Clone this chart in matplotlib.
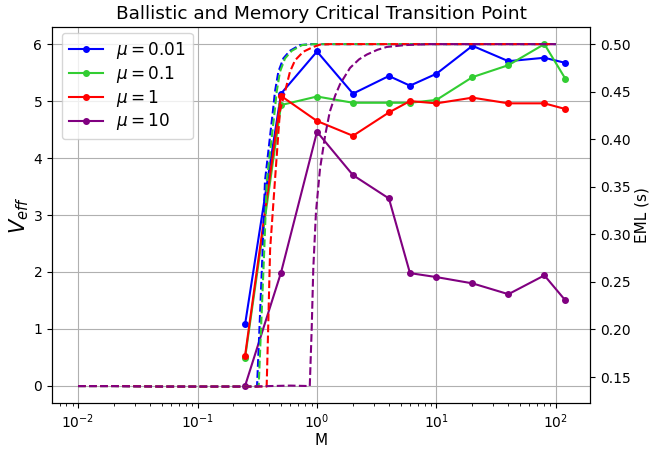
import matplotlib
matplotlib.use("Agg")
import matplotlib.pyplot as plt

# Measured points (solid lines, left axis)
M_pts = [0.25, 0.5, 1, 2, 4, 6, 10, 20, 40, 80, 120]
v_mu001 = [1.08, 5.13, 5.87, 5.13, 5.44, 5.27, 5.48, 5.97, 5.70, 5.76, 5.67]
v_mu01 = [0.49, 4.93, 5.08, 4.97, 4.97, 4.97, 5.02, 5.42, 5.63, 6.00, 5.39]
v_mu1 = [0.53, 5.09, 4.65, 4.39, 4.80, 5.00, 4.96, 5.06, 4.96, 4.96, 4.86]
v_mu10 = [0.0, 1.99, 4.46, 3.70, 3.29, 1.98, 1.91, 1.80, 1.61, 1.94, 1.50]

labels = [r"$\mu = 0.01$", r"$\mu = 0.1$", r"$\mu = 1$", r"$\mu = 10$"]
colors = ["blue", "limegreen", "red", "purple"]

# Dashed curves (right axis, EML in s)
eml_M_001 = [0.01, 0.02, 0.05, 0.1, 0.2, 0.315, 0.327, 0.351, 0.367, 0.428, 0.445, 0.475, 0.523, 0.594, 0.721, 0.9, 1.5, 5, 20, 100]
eml_001 = [0.1405, 0.1405, 0.1400, 0.1400, 0.1400, 0.1400, 0.189, 0.284, 0.356, 0.430, 0.450, 0.471, 0.485, 0.493, 0.499, 0.500, 0.500, 0.500, 0.500, 0.500]
eml_M_01 = [0.01, 0.02, 0.05, 0.1, 0.2, 0.325, 0.337, 0.362, 0.380, 0.443, 0.460, 0.490, 0.540, 0.615, 0.750, 0.95, 1.5, 5, 20, 100]
eml_01 = [0.1405, 0.1405, 0.1400, 0.1400, 0.1400, 0.1400, 0.189, 0.284, 0.356, 0.430, 0.450, 0.471, 0.485, 0.493, 0.499, 0.500, 0.500, 0.500, 0.500, 0.500]
eml_M_1 = [0.01, 0.02, 0.05, 0.1, 0.2, 0.30, 0.379, 0.388, 0.405, 0.445, 0.49, 0.54, 0.594, 0.655, 0.768, 0.93, 1.06, 1.3, 5, 20, 100]
eml_1 = [0.1405, 0.1405, 0.1400, 0.1400, 0.1400, 0.1400, 0.1400, 0.189, 0.284, 0.357, 0.430, 0.450, 0.471, 0.483, 0.492, 0.497, 0.4995, 0.500, 0.500, 0.500, 0.500]
eml_M_10 = [0.01, 0.02, 0.05, 0.1, 0.2, 0.3, 0.4, 0.6, 0.87, 0.903, 0.931, 0.981, 1.06, 1.17, 1.28, 1.42, 1.56, 1.89, 2.25, 2.61, 3.2, 3.83, 5.5, 8.8, 20, 100]
eml_10 = [0.1405, 0.1405, 0.1400, 0.1400, 0.1400, 0.1400, 0.1405, 0.1410, 0.1405, 0.201, 0.264, 0.324, 0.369, 0.404, 0.429, 0.446, 0.458, 0.475, 0.484, 0.489, 0.494, 0.497, 0.499, 0.500, 0.500, 0.500]

fig = plt.figure(figsize=(6.52, 4.49), dpi=100)
ax = fig.add_axes([52 / 652, 1 - 403 / 449, (590 - 52) / 652, (403 - 27) / 449])
ax2 = ax.twinx()

solid = [v_mu001, v_mu01, v_mu1, v_mu10]
for vals, c, lab in zip(solid, colors, labels):
    ax.plot(M_pts, vals, "-o", color=c, label=lab, lw=1.5, ms=4)

dashed_M = [eml_M_001, eml_M_01, eml_M_1, eml_M_10]
dashed_v = [eml_001, eml_01, eml_1, eml_10]
for xs, ys, c in zip(dashed_M, dashed_v, colors):
    ax2.plot(xs, ys, "--", color=c, lw=1.5)

ax.set_xscale("log")
ax.set_xlim(10 ** -2.218, 10 ** 2.285)
ax.set_ylim(-0.30, 6.30)
ax2.set_ylim(0.1227, 0.518)
ax.grid(True, which="major", color="#b0b0b0", lw=0.8)
ax.set_xlabel("M", fontsize=11, labelpad=1)
ax.set_ylabel(r"$V_{eff}$", fontsize=15, labelpad=2)
ax2.set_ylabel("EML (s)", fontsize=11, labelpad=3)
ax.set_title("Ballistic and Memory Critical Transition Point", fontsize=13.3, pad=6)
ax.legend(loc="upper left", fontsize=12.2, labelspacing=0.17, handlelength=2.0,
          borderaxespad=0.0, bbox_to_anchor=(0.0186, 0.984))

fig.savefig("out.png", dpi=100)
